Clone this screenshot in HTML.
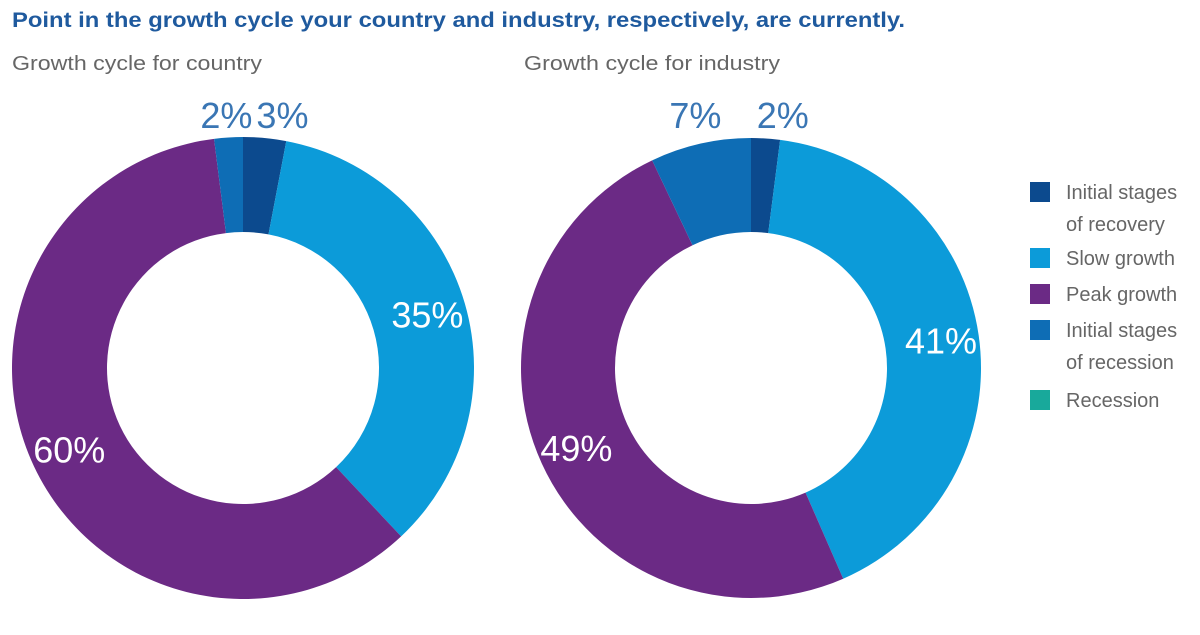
<!DOCTYPE html>
<html><head><meta charset="utf-8"><style>
body{margin:0;background:#fff;width:1200px;height:630px;overflow:hidden;font-family:"Liberation Sans",sans-serif}
</style></head><body>
<svg width="1200" height="630">
<text x="12" y="27" font-size="21" font-weight="bold" fill="#1f5a9e" textLength="893" lengthAdjust="spacingAndGlyphs">Point in the growth cycle your country and industry, respectively, are currently.</text>
<text x="12" y="70" font-size="20" fill="#666" textLength="250" lengthAdjust="spacingAndGlyphs">Growth cycle for country</text>
<text x="524" y="70" font-size="20" fill="#666" textLength="256" lengthAdjust="spacingAndGlyphs">Growth cycle for industry</text>
<g id="charts"></g>
<g id="legend"></g>
</svg>
<script>
const categories=["Initial stages of recovery","Slow growth","Peak growth","Initial stages of recession","Recession"];
const countryValues=[3,35,60,2,0];
const industryValues=[2,41,49,7,0];
const colors=["#0c4a8e","#0c9bd9","#6b2a85","#0e6db5","#18a99b"];
const NS="http://www.w3.org/2000/svg";
const g=document.getElementById('charts');
function mk(t,a){const e=document.createElementNS(NS,t);for(const k in a)e.setAttribute(k,a[k]);return e;}
function donut(vals,cx,cy,R,r,name){
  const tot=vals.reduce((a,b)=>a+b,0);let acc=0;
  vals.forEach((v,i)=>{
    if(v<=0)return;
    const a0=acc/tot*2*Math.PI, a1=(acc+v)/tot*2*Math.PI; acc+=v;
    const p=(a,rr)=>[cx+rr*Math.sin(a),cy-rr*Math.cos(a)];
    const [x0,y0]=p(a0,R),[x1,y1]=p(a1,R),[x2,y2]=p(a1,r),[x3,y3]=p(a0,r);
    const lg=(a1-a0)>Math.PI?1:0;
    const path=mk('path',{d:`M${x0},${y0}A${R},${R} 0 ${lg} 1 ${x1},${y1}L${x2},${y2}A${r},${r} 0 ${lg} 0 ${x3},${y3}Z`,fill:colors[i]});
    
    
    g.appendChild(path);
    const am=(a0+a1)/2; const small=v<10;
    let t;
    if(small){
      const [lx]=p(am,R+18); const right=Math.sin(am)>0;
      t=mk('text',{x:right?lx-10:lx+25,y:128,'font-size':36,fill:'#3a76b4','text-anchor':right?'start':'end'});
    } else {
      const [lx,ly]=p(am,192);
      t=mk('text',{x:lx,y:ly+13,'font-size':36,fill:'#fff','text-anchor':'middle'});
    }
    t.textContent=v+'%';
    
    
    g.appendChild(t);
  });
}
donut(countryValues,243,368,231,136,'country');
donut(industryValues,751,368,230,136,'industry');
const lg=document.getElementById('legend');
const ly=[182,248,284,320,390];
categories.forEach((c,i)=>{
  const r=mk('rect',{x:1030,y:ly[i],width:20,height:20,fill:colors[i]});
  
  
  lg.appendChild(r);
  const words=c==="Initial stages of recovery"?["Initial stages","of recovery"]:c==="Initial stages of recession"?["Initial stages","of recession"]:[c];
  words.forEach((w,j)=>{
    const t=mk('text',{x:1066,y:ly[i]+17+j*32,'font-size':20,fill:'#666'});
    t.textContent=w;
    
    
    lg.appendChild(t);
  });
});
</script>
</body></html>
